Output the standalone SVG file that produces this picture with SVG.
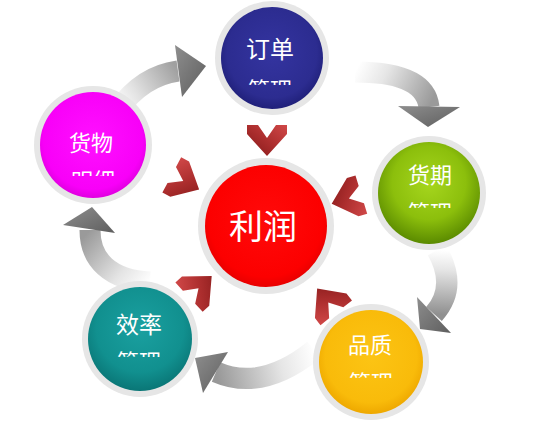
<svg xmlns="http://www.w3.org/2000/svg" width="541" height="436" viewBox="0 0 541 436">
<style>
.ring{fill:#e6e6e6;}
.lbl{font-family:"Noto Sans CJK SC","Noto Sans CJK JP",sans-serif;fill:#ffffff;text-anchor:middle;}
.sub{font-family:"Noto Sans CJK SC","Noto Sans CJK JP",sans-serif;fill:#ffffff;text-anchor:middle;font-size:22px;}
.band{fill:none;stroke-width:21;stroke-linecap:butt;}
.head{fill:url(#hg);}
.chev{fill:url(#cg);}
</style>
<defs>
<linearGradient id="hg" x1="0" y1="0" x2="1" y2="1">
<stop offset="0" stop-color="#8e8e8e"/><stop offset="1" stop-color="#5e5e5e"/>
</linearGradient>
<linearGradient id="cg" x1="0" y1="0" x2="1" y2="1">
<stop offset="0" stop-color="#d04848"/><stop offset="0.5" stop-color="#ac2e2e"/><stop offset="1" stop-color="#821818"/>
</linearGradient>
<linearGradient id="b1" gradientUnits="userSpaceOnUse" x1="118" y1="110" x2="178" y2="71">
<stop offset="0" stop-color="#ffffff"/><stop offset="0.35" stop-color="#e2e2e2"/><stop offset="1" stop-color="#a0a0a0"/>
</linearGradient>
<linearGradient id="b2" gradientUnits="userSpaceOnUse" x1="355" y1="72" x2="429" y2="107">
<stop offset="0" stop-color="#ffffff"/><stop offset="0.35" stop-color="#e6e6e6"/><stop offset="1" stop-color="#9a9a9a"/>
</linearGradient>
<linearGradient id="b3" gradientUnits="userSpaceOnUse" x1="437" y1="250" x2="434" y2="314">
<stop offset="0" stop-color="#ffffff"/><stop offset="0.3" stop-color="#e6e6e6"/><stop offset="1" stop-color="#909090"/>
</linearGradient>
<linearGradient id="b4" gradientUnits="userSpaceOnUse" x1="314" y1="350" x2="216" y2="372">
<stop offset="0" stop-color="#ffffff"/><stop offset="0.35" stop-color="#e6e6e6"/><stop offset="1" stop-color="#989898"/>
</linearGradient>
<linearGradient id="b5" gradientUnits="userSpaceOnUse" x1="150" y1="282" x2="90" y2="230">
<stop offset="0" stop-color="#ffffff"/><stop offset="0.35" stop-color="#e4e4e4"/><stop offset="1" stop-color="#9a9a9a"/>
</linearGradient>
<radialGradient id="gBlue" cx="0.5" cy="0.45" r="0.55">
<stop offset="0" stop-color="#3434a0"/><stop offset="0.8" stop-color="#2c2c90"/><stop offset="1" stop-color="#20207a"/>
</radialGradient>
<radialGradient id="gMag" cx="0.5" cy="0.45" r="0.55">
<stop offset="0" stop-color="#ff10ff"/><stop offset="0.85" stop-color="#f800f8"/><stop offset="1" stop-color="#e000e0"/>
</radialGradient>
<radialGradient id="gRed" cx="0.5" cy="0.45" r="0.55">
<stop offset="0" stop-color="#ff0a0a"/><stop offset="0.85" stop-color="#fc0000"/><stop offset="1" stop-color="#e80000"/>
</radialGradient>
<radialGradient id="gGreen" cx="0.5" cy="0.4" r="0.6">
<stop offset="0" stop-color="#a6d61e"/><stop offset="0.6" stop-color="#8cbf0c"/><stop offset="1" stop-color="#5a8a00"/>
</radialGradient>
<radialGradient id="gGold" cx="0.5" cy="0.45" r="0.55">
<stop offset="0" stop-color="#fcc414"/><stop offset="0.8" stop-color="#f9bb0a"/><stop offset="1" stop-color="#eea800"/>
</radialGradient>
<radialGradient id="gTeal" cx="0.5" cy="0.4" r="0.6">
<stop offset="0" stop-color="#1aa0a0"/><stop offset="0.7" stop-color="#11908f"/><stop offset="1" stop-color="#0a7676"/>
</radialGradient>
<clipPath id="s1"><rect x="240" y="79" width="60" height="6"/></clipPath>
<clipPath id="s2"><rect x="60" y="170" width="66" height="6"/></clipPath>
<clipPath id="s3"><rect x="400" y="202" width="60" height="6"/></clipPath>
<clipPath id="s4"><rect x="340" y="372" width="60" height="6"/></clipPath>
<clipPath id="s5"><rect x="110" y="351" width="60" height="6"/></clipPath>
<polygon id="chevShape" points="-15,-20 -6,-20 16,0 -6,20 -15,20 -15,9 -2,0 -15,-9"/>
</defs>
<rect width="541" height="436" fill="#ffffff"/>

<g id="connectors">
<path class="band" stroke="url(#b1)" d="M118,110 Q142,76 178,71"/>
<polygon class="head" points="175,45 206,66 182,97"/>
<path class="band" stroke="url(#b2)" d="M355,72 Q425,72 429,107"/>
<polygon class="head" points="398,106 460,107 428,127"/>
<path class="band" stroke="url(#b3)" d="M437,250 Q458,287 434,314"/>
<polygon class="head" points="417,297 451,333 420,329"/>
<path class="band" stroke="url(#b4)" d="M314,350 Q262,392 216,372"/>
<polygon class="head" points="228,352 195,358 203,393"/>
<path class="band" stroke="url(#b5)" d="M150,282 C110,280 90,260 90,230"/>
<polygon class="head" points="63,225 92,207 115,233"/>
<g id="chevrons">
<use href="#chevShape" class="chev" transform="translate(267,140) rotate(90)"/>
<use href="#chevShape" class="chev" transform="translate(185,182) rotate(28)"/>
<use href="#chevShape" class="chev" transform="translate(347,199) rotate(163)"/>
<use href="#chevShape" class="chev" transform="translate(200,287) rotate(-43)"/>
<use href="#chevShape" class="chev" transform="translate(327,301) rotate(-128)"/>
</g>
</g>

<g id="node-profit">
<circle class="ring" cx="266" cy="226" r="68"/>
<circle cx="266" cy="226" r="61" fill="url(#gRed)"/>
<text class="lbl" x="263" y="239" font-size="34">利润</text>
</g>
<g id="node-order">
<circle class="ring" cx="272" cy="58" r="57"/>
<circle cx="272" cy="58" r="51" fill="url(#gBlue)"/>
<text class="lbl" x="270" y="58" font-size="24">订单</text>
<text class="sub" x="270" y="98" clip-path="url(#s1)">管理</text>
</g>
<g id="node-goods">
<circle class="ring" cx="93" cy="145" r="59"/>
<circle cx="93" cy="145" r="53" fill="url(#gMag)"/>
<text class="lbl" x="91" y="151" font-size="22">货物</text>
<text class="sub" x="93" y="189" clip-path="url(#s2)">明细</text>
</g>
<g id="node-delivery">
<circle class="ring" cx="429" cy="193" r="57"/>
<circle cx="429" cy="193" r="51" fill="url(#gGreen)"/>
<text class="lbl" x="430" y="183" font-size="22" fill="#fffbe0">货期</text>
<text class="sub" x="430" y="221" clip-path="url(#s3)">管理</text>
</g>
<g id="node-quality">
<circle class="ring" cx="371" cy="362" r="58"/>
<circle cx="371" cy="362" r="52" fill="url(#gGold)"/>
<text class="lbl" x="370" y="353" font-size="22">品质</text>
<text class="sub" x="371" y="391" clip-path="url(#s4)">管理</text>
</g>
<g id="node-efficiency">
<circle class="ring" cx="140" cy="339" r="58"/>
<circle cx="140" cy="339" r="52" fill="url(#gTeal)"/>
<text class="lbl" x="139" y="333" font-size="23">效率</text>
<text class="sub" x="139" y="370" clip-path="url(#s5)">管理</text>
</g>
</svg>
